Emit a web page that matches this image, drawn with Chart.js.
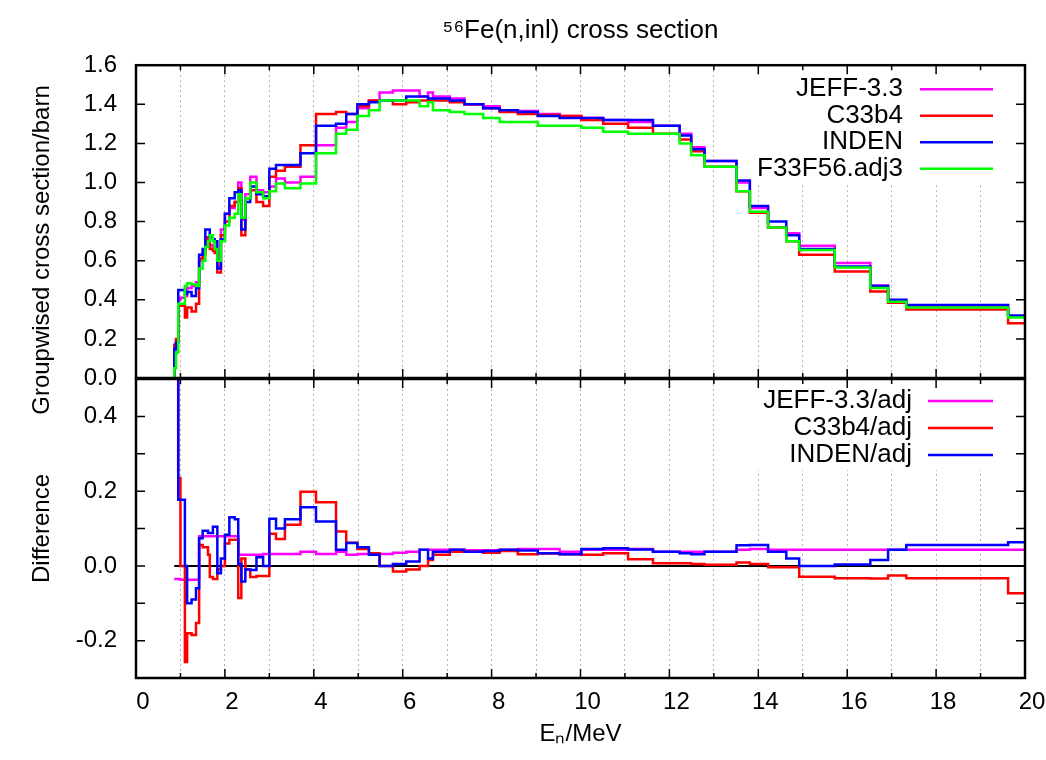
<!DOCTYPE html>
<html>
<head>
<meta charset="utf-8">
<title>56Fe(n,inl) cross section</title>
<script src="https://cdn.jsdelivr.net/npm/chart.js@4.4.1/dist/chart.umd.min.js"></script>
<style>
  html, body { margin: 0; padding: 0; background: #fff; }
  #wrap { position: relative; width: 1046px; height: 760px; }
  #wrap canvas { position: absolute; left: 0; }
  #xsChart { top: 0; }
  #diffChart { top: 370px; }
</style>
</head>
<body>
<div id="wrap">
  <canvas id="xsChart" width="1046" height="420"></canvas>
  <canvas id="diffChart" width="1046" height="390"></canvas>
</div>
<script>
// group boundaries (MeV), one more entry than each value list
const energyEdges = [0.86, 0.90, 0.95, 1.0, 1.1, 1.15, 1.25, 1.35, 1.42, 1.5,
    1.56, 1.62, 1.66, 1.73, 1.77, 1.83, 1.91, 2.0, 2.1, 2.22,
    2.3, 2.37, 2.46, 2.57, 2.71, 2.86, 3.0, 3.15, 3.35, 3.7,
    4.05, 4.5, 4.73, 4.98, 5.24, 5.48, 5.78, 6.08, 6.38, 6.57,
    6.68, 7.06, 7.39, 7.81, 8.18, 8.59, 9.04, 9.53, 10.02, 10.51,
    11.07, 11.63, 12.23, 12.49, 12.79, 13.51, 13.81, 14.22, 14.63, 14.92,
    15.72, 16.52, 16.92, 17.33, 19.62, 20.0];

// groupwise cross sections (barn)
const jeff33 = [0.12, 0.19, 0.40, 0.41, 0.42, 0.46, 0.47, 0.49, 0.60, 0.64,
    0.70, 0.70, 0.68, 0.67, 0.66, 0.57, 0.76, 0.84, 0.87, 0.90,
    1.00, 0.81, 0.94, 1.03, 0.96, 0.95, 0.98, 1.02, 1.00, 1.03,
    1.19, 1.28, 1.31, 1.38, 1.42, 1.46, 1.47, 1.47, 1.44, 1.46,
    1.44, 1.43, 1.40, 1.39, 1.37, 1.366, 1.35, 1.34, 1.33, 1.32,
    1.31, 1.29, 1.25, 1.18, 1.11, 1.00, 0.87, 0.77, 0.74, 0.677,
    0.588, 0.473, 0.395, 0.37, 0.315];
const c33b4 = [0.17, 0.20, 0.37, 0.37, 0.31, 0.36, 0.34, 0.38, 0.61, 0.63,
    0.72, 0.70, 0.66, 0.65, 0.64, 0.54, 0.73, 0.80, 0.88, 0.90,
    0.97, 0.73, 0.92, 0.96, 0.90, 0.88, 1.03, 1.06, 1.08, 1.19,
    1.35, 1.36, 1.35, 1.39, 1.42, 1.42, 1.40, 1.41, 1.42, 1.42,
    1.42, 1.41, 1.40, 1.38, 1.36, 1.35, 1.345, 1.34, 1.32, 1.30,
    1.28, 1.25, 1.22, 1.16, 1.08, 0.955, 0.845, 0.77, 0.70, 0.63,
    0.545, 0.443, 0.385, 0.35, 0.28];
const inden = [0.15, 0.18, 0.45, 0.45, 0.43, 0.44, 0.42, 0.46, 0.63, 0.66,
    0.76, 0.76, 0.72, 0.71, 0.70, 0.56, 0.71, 0.84, 0.92, 0.95,
    0.96, 0.76, 0.90, 0.98, 0.94, 0.93, 1.07, 1.09, 1.09, 1.15,
    1.29, 1.30, 1.35, 1.40, 1.41, 1.42, 1.42, 1.44, 1.44, 1.43,
    1.43, 1.42, 1.40, 1.38, 1.37, 1.36, 1.34, 1.33, 1.33, 1.32,
    1.32, 1.29, 1.24, 1.17, 1.11, 1.01, 0.88, 0.80, 0.73, 0.66,
    0.57, 0.47, 0.40, 0.374, 0.32];
const adj3 = [0.05, 0.13, 0.38, 0.38, 0.47, 0.485, 0.48, 0.47, 0.56, 0.60,
    0.67, 0.70, 0.73, 0.70, 0.66, 0.60, 0.70, 0.78, 0.82, 0.84,
    0.94, 0.82, 0.92, 1.00, 0.95, 0.92, 0.955, 0.995, 0.97, 0.995,
    1.15, 1.25, 1.27, 1.34, 1.37, 1.42, 1.42, 1.42, 1.39, 1.41,
    1.37, 1.36, 1.35, 1.33, 1.31, 1.31, 1.29, 1.29, 1.28, 1.26,
    1.25, 1.25, 1.20, 1.14, 1.08, 0.955, 0.85, 0.77, 0.70, 0.655,
    0.565, 0.46, 0.39, 0.36, 0.31];

// relative differences to the adjusted set
const jeffDiff = [-0.035, -0.035, -0.035, -0.037, -0.037, -0.037, -0.037, -0.037, 0.079, 0.079,
    0.079, 0.079, 0.079, 0.079, 0.079, 0.079, 0.079, 0.079, 0.079, 0.079,
    0.030, 0.030, 0.030, 0.030, 0.030, 0.032, 0.032, 0.032, 0.032, 0.038,
    0.032, 0.038, 0.030, 0.032, 0.032, 0.032, 0.035, 0.038, 0.043, 0.043,
    0.043, 0.043, 0.042, 0.042, 0.043, 0.045, 0.045, 0.038, 0.043, 0.043,
    0.045, 0.038, 0.038, 0.038, 0.038, 0.043, 0.045, 0.043, 0.043, 0.043,
    0.043, 0.043, 0.043, 0.043, 0.043];
const c33b4Diff = [0.8, 0.6, 0.235, 0.0, -0.257, -0.18, -0.185, -0.153, 0.056, 0.05,
    0.05, 0.03, -0.03, -0.035, -0.035, -0.01, 0.0, 0.06, 0.07, 0.07,
    -0.086, 0.02, -0.01, -0.03, -0.027, -0.027, 0.086, 0.072, 0.11, 0.198,
    0.17, 0.092, 0.062, 0.045, 0.034, 0.0, -0.015, -0.01, 0.0, 0.016,
    0.03, 0.038, 0.038, 0.035, 0.04, 0.031, 0.033, 0.031, 0.03, 0.034,
    0.018, 0.007, 0.007, 0.005, 0.003, 0.009, 0.005, -0.004, -0.004, -0.029,
    -0.033, -0.034, -0.026, -0.033, -0.073];
const indenDiff = [0.8, 0.7, 0.177, 0.177, 0.0, -0.10, -0.09, -0.06, 0.074, 0.094,
    0.094, 0.088, 0.088, 0.105, 0.105, -0.02, 0.02, 0.083, 0.13, 0.125,
    0.005, -0.042, -0.01, -0.011, 0.023, 0.0, 0.126, 0.10, 0.125, 0.157,
    0.119, 0.043, 0.061, 0.05, 0.03, 0.0, 0.005, 0.012, 0.043, 0.02,
    0.038, 0.043, 0.038, 0.040, 0.043, 0.041, 0.034, 0.031, 0.045, 0.047,
    0.044, 0.038, 0.034, 0.031, 0.038, 0.055, 0.056, 0.038, 0.02, 0.0,
    0.004, 0.016, 0.043, 0.056, 0.063];

// tick positions
const energyTicks = [0, 1, 2, 3, 4, 5, 6, 7, 8, 9, 10, 11, 12, 13, 14, 15, 16, 17, 18, 19, 20];
const xsTicks = [0, 0.1, 0.2, 0.3, 0.4, 0.5, 0.6, 0.7, 0.8, 0.9, 1.0, 1.1, 1.2, 1.3, 1.4, 1.5, 1.6];
const diffTicks = [-0.3, -0.2, -0.1, 0, 0.1, 0.2, 0.3, 0.4, 0.5];

Chart.defaults.font.family = "'Liberation Sans', Arial, sans-serif";
Chart.defaults.font.size = 24;
Chart.defaults.color = '#000';

const gridColor = '#b4b4b4';
const keyFont = "26px 'Liberation Sans', Arial, sans-serif";

// step curve: each value holds from its lower edge to the next edge
const stepPoints = (values, fromZero) => {
    const pts = values.map((v, i) => ({ x: energyEdges[i], y: v }));
    pts.push({ x: energyEdges[values.length], y: values[values.length - 1] });
    if (fromZero) pts.unshift({ x: energyEdges[0], y: 0 });
    return pts;
};

const stepSet = (label, values, color, order, fromZero) => ({
    label: label,
    data: stepPoints(values, fromZero),
    borderColor: color,
    backgroundColor: color,
    borderWidth: 2.5,
    pointRadius: 0,
    stepped: 'before',
    fill: false,
    order: order
});

const useTicks = list => scale => { scale.ticks = list.map(v => ({ value: v })); };
const evenTenths = v => Math.round(v * 10) % 2 === 0 ? v.toFixed(1) : '';

// gnuplot-like key: text right aligned, sample line on the right, white box behind
const keyPlugin = {
    id: 'stepKey',
    beforeDatasetsDraw(chart, args, opts) {
        const { ctx, chartArea } = chart;
        const sets = chart.data.datasets.filter(d => d.label);
        ctx.save();
        ctx.font = opts.font;
        const widest = Math.max(...sets.map(d => ctx.measureText(d.label).width));
        const lineEnd = chartArea.right - opts.marginRight;
        const lineStart = lineEnd - opts.sampleLength;
        const textEnd = lineStart - opts.gap;
        const boxLeft = textEnd - widest - 8;
        const boxBottom = chartArea.top + opts.firstRow + (sets.length - 1) * opts.rowHeight + 15;
        ctx.fillStyle = '#fff';
        ctx.fillRect(boxLeft, chartArea.top, chartArea.right - boxLeft, boxBottom - chartArea.top);
        sets.forEach((d, i) => {
            const y = chartArea.top + opts.firstRow + i * opts.rowHeight;
            ctx.fillStyle = '#000';
            ctx.textAlign = 'right';
            ctx.textBaseline = 'middle';
            ctx.fillText(d.label, textEnd, y);
            ctx.strokeStyle = d.borderColor;
            ctx.lineWidth = d.borderWidth;
            ctx.beginPath();
            ctx.moveTo(lineStart, y);
            ctx.lineTo(lineEnd, y);
            ctx.stroke();
        });
        ctx.restore();
    }
};

// frame with inward tick marks on all four sides
const framePlugin = {
    id: 'frameTicks',
    afterDraw(chart, args, opts) {
        const { ctx, chartArea: a, scales } = chart;
        ctx.save();
        ctx.strokeStyle = '#000';
        ctx.lineWidth = 1.5;
        ctx.beginPath();
        scales.x.ticks.forEach(t => {
            const px = scales.x.getPixelForValue(t.value);
            const len = t.value % 2 === 0 ? opts.major : opts.minor;
            ctx.moveTo(px, a.bottom);
            ctx.lineTo(px, a.bottom - len);
            ctx.moveTo(px, a.top);
            ctx.lineTo(px, a.top + len);
        });
        scales.y.ticks.forEach(t => {
            const py = scales.y.getPixelForValue(t.value);
            const len = (opts.allMajorY || t.label !== '') ? opts.major : opts.minor;
            ctx.moveTo(a.left, py);
            ctx.lineTo(a.left + len, py);
            ctx.moveTo(a.right, py);
            ctx.lineTo(a.right - len, py);
        });
        ctx.stroke();
        ctx.lineWidth = 2.5;
        ctx.strokeRect(a.left, a.top, a.right - a.left, a.bottom - a.top);
        if (opts.sideTitle) {
            ctx.translate(opts.sideTitle.x, opts.sideTitle.y);
            ctx.rotate(-Math.PI / 2);
            ctx.font = opts.sideTitle.font;
            ctx.fillStyle = '#000';
            ctx.textAlign = 'center';
            ctx.textBaseline = 'middle';
            ctx.fillText(opts.sideTitle.text, 0, 0);
        }
        ctx.restore();
    }
};

const energyAxis = (showLabels, height) => ({
    type: 'linear',
    min: 0,
    max: 20,
    afterBuildTicks: useTicks(energyTicks),
    ticks: {
        display: showLabels,
        autoSkip: false,
        maxRotation: 0,
        padding: 10,
        labelOffset: 7,
        callback: v => v % 2 === 0 ? String(v) : ''
    },
    grid: { color: gridColor, lineWidth: 1, drawTicks: false },
    border: { display: false, dash: [2, 3] },
    afterFit: s => { s.height = height; s.paddingLeft = 0; s.paddingRight = 0; }
});

const valueAxis = (min, max, list) => ({
    min: min,
    max: max,
    afterBuildTicks: useTicks(list),
    ticks: { padding: 19, callback: evenTenths },
    grid: { display: false, drawTicks: false },
    border: { display: false },
    afterFit: s => { s.width = 136; s.paddingTop = 0; s.paddingBottom = 0; }
});

const xsChart = new Chart(document.getElementById('xsChart').getContext('2d'), {
    type: 'line',
    data: {
        datasets: [
            stepSet('JEFF-3.3', jeff33, '#ff00ff', 4, true),
            stepSet('C33b4', c33b4, '#ff0000', 3, true),
            stepSet('INDEN', inden, '#0000ff', 2, true),
            stepSet('F33F56.adj3', adj3, '#00ff00', 1, true)
        ]
    },
    options: {
        responsive: false,
        animation: false,
        layout: { padding: { left: 0, right: 21, top: 0, bottom: 40 } },
        plugins: {
            legend: { display: false },
            tooltip: { enabled: false },
            title: {
                display: true,
                text: '⁵⁶Fe(n,inl) cross section',
                fullSize: false,
                color: '#000',
                font: { size: 26, weight: 'normal' },
                padding: { top: 15, bottom: 19 }
            },
            stepKey: { font: keyFont, firstRow: 24, rowHeight: 26.5, marginRight: 32, sampleLength: 73, gap: 17 },
            frameTicks: {
                major: 9, minor: 5, allMajorY: false,
                sideTitle: { text: 'Groupwised cross section/barn', x: 42, y: 250, font: "24px 'Liberation Sans', Arial, sans-serif" }
            }
        },
        scales: {
            x: energyAxis(false, 2),
            y: valueAxis(0, 1.6, xsTicks)
        }
    },
    plugins: [keyPlugin, framePlugin]
});

const zeroLine = {
    label: '',
    data: [{ x: energyEdges[0], y: 0 }, { x: energyEdges[energyEdges.length - 1], y: 0 }],
    borderColor: '#000',
    borderWidth: 2,
    pointRadius: 0,
    fill: false,
    order: 9
};

const diffChart = new Chart(document.getElementById('diffChart').getContext('2d'), {
    type: 'line',
    data: {
        datasets: [
            zeroLine,
            stepSet('JEFF-3.3/adj', jeffDiff, '#ff00ff', 3, false),
            stepSet('C33b4/adj', c33b4Diff, '#ff0000', 2, false),
            stepSet('INDEN/adj', indenDiff, '#0000ff', 1, false)
        ]
    },
    options: {
        responsive: false,
        animation: false,
        layout: { padding: { left: 0, right: 21, top: 9, bottom: 0 } },
        plugins: {
            legend: { display: false },
            tooltip: { enabled: false },
            stepKey: { font: keyFont, firstRow: 22, rowHeight: 27, marginRight: 32, sampleLength: 65, gap: 16 },
            frameTicks: { major: 9, minor: 5, allMajorY: true }
        },
        scales: {
            x: Object.assign(energyAxis(true, 82), {
                title: { display: true, text: 'Eₙ/MeV', font: { size: 24 }, padding: { top: 0, bottom: 11 } }
            }),
            y: Object.assign(valueAxis(-0.3, 0.5, diffTicks), {
                title: { display: true, text: 'Difference', font: { size: 24 }, padding: { top: 28, bottom: 0 } }
            })
        }
    },
    plugins: [keyPlugin, framePlugin]
});
</script>
</body>
</html>
